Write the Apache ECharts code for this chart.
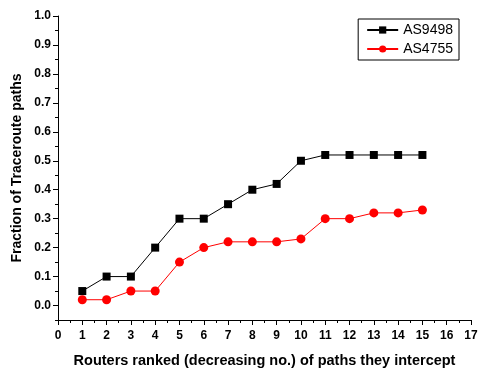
<!DOCTYPE html>
<html>
<head>
<meta charset="utf-8">
<script src="https://cdn.jsdelivr.net/npm/echarts@6/dist/echarts.min.js"></script>
<style>
  html, body { margin: 0; padding: 0; background: #fff; }
  #main { width: 478px; height: 368px; }
</style>
</head>
<body>
<div id="main"></div>
<script>
// data
var ranks = [1, 2, 3, 4, 5, 6, 7, 8, 9, 10, 11, 12, 13, 14, 15];
var as9498 = [0.05, 0.10, 0.10, 0.20, 0.30, 0.30, 0.35, 0.40, 0.42, 0.50, 0.52, 0.52, 0.52, 0.52, 0.52];
var as4755 = [0.02, 0.02, 0.05, 0.05, 0.15, 0.20, 0.22, 0.22, 0.22, 0.23, 0.30, 0.30, 0.32, 0.32, 0.33];
var yTicks = [0, 0.1, 0.2, 0.3, 0.4, 0.5, 0.6, 0.7, 0.8, 0.9, 1.0];

function pairs(xs, ys) {
    return xs.map(function (x, i) { return [x, ys[i]]; });
}

var myChart = echarts.init(document.getElementById('main'));

var font = '"Liberation Sans", Arial, sans-serif';

var option = {
    animation: false,
    backgroundColor: '#fff',
    grid: {
        left: 58,
        right: 7,
        top: 16,
        bottom: 48,
        outerBoundsMode: 'none'
    },
    legend: {
        right: 19,
        top: 19,
        orient: 'vertical',
        itemWidth: 31,
        itemHeight: 9,
        itemGap: 5,
        padding: [4, 6, 4, 8],
        borderColor: '#000',
        borderWidth: 1,
        backgroundColor: '#fff',
        textStyle: { fontFamily: font, fontSize: 14, color: '#000' },
        data: ['AS9498', 'AS4755']
    },
    xAxis: {
        type: 'value',
        min: 0,
        max: 17,
        interval: 1,
        name: 'Routers ranked (decreasing no.) of paths they intercept',
        nameLocation: 'middle',
        nameGap: 33,
        nameTextStyle: { fontFamily: font, fontSize: 14.5, fontWeight: 'bold', color: '#000' },
        axisLine: { show: true, onZero: false, lineStyle: { color: '#000', width: 1 } },
        axisTick: { show: true, inside: false, length: 5, lineStyle: { color: '#000' } },
        minorTick: { show: true, splitNumber: 2, length: 3, lineStyle: { color: '#000' } },
        axisLabel: { fontFamily: font, fontSize: 12, fontWeight: 'bold', color: '#000', margin: 10 },
        splitLine: { show: false }
    },
    yAxis: [{
        type: 'value',
        min: -0.05,
        max: 1.0,
        interval: 0.05,
        name: 'Fraction of Traceroute paths',
        nameLocation: 'middle',
        nameGap: 34,
        nameTextStyle: { fontFamily: font, fontSize: 14, fontWeight: 'bold', color: '#000' },
        axisLine: { show: true, onZero: false, lineStyle: { color: '#000', width: 1 } },
        axisTick: { show: true, length: 3, lineStyle: { color: '#000' } },
        axisLabel: { show: false },
        splitLine: { show: false }
    }, {
        type: 'value',
        position: 'left',
        min: -0.05,
        max: 1.0,
        interval: 0.05,
        axisLine: { show: false },
        axisTick: { show: true, length: 5, customValues: yTicks, lineStyle: { color: '#000' } },
        axisLabel: {
            show: true,
            customValues: yTicks,
            fontFamily: font, fontSize: 12, fontWeight: 'bold', color: '#000', margin: 7,
            formatter: function (v) { return v.toFixed(1); }
        },
        splitLine: { show: false }
    }],
    series: [{
        name: 'AS9498',
        type: 'line',
        symbol: 'rect',
        symbolSize: 8,
        color: '#000',
        lineStyle: { width: 1, color: '#000' },
        itemStyle: { color: '#000' },
        data: pairs(ranks, as9498)
    }, {
        name: 'AS4755',
        type: 'line',
        symbol: 'circle',
        symbolSize: 9,
        color: '#ff0000',
        lineStyle: { width: 1, color: '#ff0000' },
        itemStyle: { color: '#ff0000' },
        data: pairs(ranks, as4755)
    }]
};

myChart.setOption(option);
</script>
</body>
</html>
